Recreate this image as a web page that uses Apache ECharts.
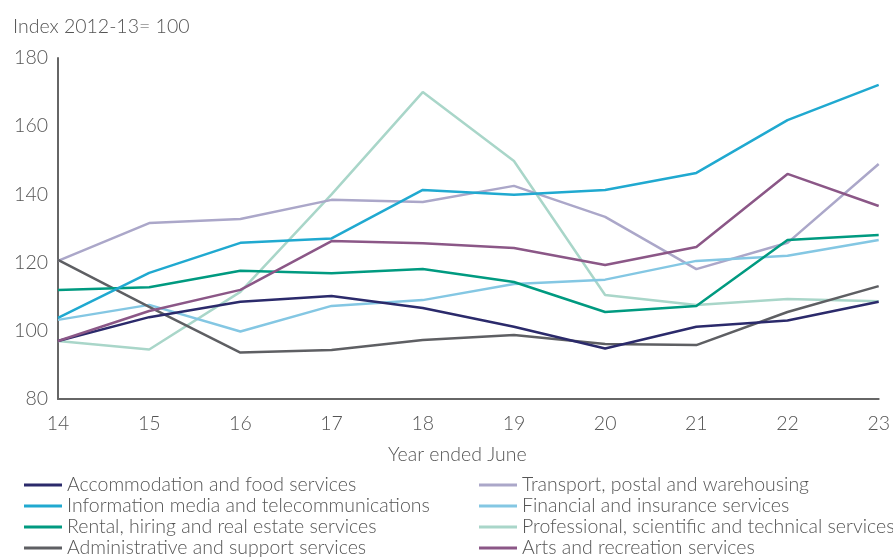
<!DOCTYPE html>
<html>
<head>
<meta charset="utf-8">
<script src="https://cdn.jsdelivr.net/npm/echarts@6/dist/echarts.min.js"></script>
<style>
  html, body { margin: 0; padding: 0; background: #fff; }
  #chart { width: 893px; height: 557px; }
</style>
</head>
<body>
<div id="chart"></div>
<script>
// year ended June
var years = ['14', '15', '16', '17', '18', '19', '20', '21', '22', '23']

var accommodation = [97, 104, 108.5, 110.2, 106.7, 101.2, 94.8, 101.2, 103, 108.5]
var transport = [120.5, 131.6, 132.8, 138.4, 137.8, 142.5, 133.4, 118.1, 125.8, 148.9]
var infoMedia = [103.8, 117, 125.8, 127.1, 141.3, 139.9, 141.3, 146.3, 161.8, 172.1]
var financial = [103.2, 107.6, 99.8, 107.3, 109, 113.7, 115, 120.5, 122, 126.6]
var rental = [112, 112.8, 117.6, 116.9, 118.1, 114.3, 105.5, 107.3, 126.6, 128.1]
var professional = [97, 94.5, 111.4, 140, 170, 149.8, 110.5, 107.6, 109.3, 108.7]
var admin = [120.8, 107, 93.6, 94.4, 97.3, 98.8, 96.1, 95.8, 105.5, 113.1]
var arts = [97, 105.8, 112, 126.3, 125.7, 124.3, 119.3, 124.6, 146, 136.6]

// legend layout: two columns, four rows
var legendCol1 = ['Accommodation and food services', 'Information media and telecommunications',
  'Rental, hiring and real estate services', 'Administrative and support services']
var legendCol2 = ['Transport, postal and warehousing', 'Financial and insurance services',
  'Professional, scientific and technical services', 'Arts and recreation services']

var font = 'Lato'
var textColor = '#555'
var fontSize = 19.5

var chart = echarts.init(document.getElementById('chart'))

function line(name, data, color) {
  return {
    name: name,
    type: 'line',
    data: data,
    symbol: 'none',
    lineStyle: { color: color, width: 2.5 },
    itemStyle: { color: color }
  }
}

function legendItem(name, left, row) {
  return {
    data: [name],
    left: left,
    top: 475 + row * 21,
    itemWidth: 38,
    itemHeight: 3,
    icon: 'rect',
    padding: 0,
    textStyle: { fontFamily: font, fontWeight: 300, fontSize: fontSize, color: textColor }
  }
}

var legends = []
legendCol1.forEach(function(n, i) { legends.push(legendItem(n, 24, i)) })
legendCol2.forEach(function(n, i) { legends.push(legendItem(n, 479, i)) })

chart.setOption({
  animation: false,
  textStyle: { fontFamily: font },
  grid: { left: 58, right: 10, top: 58, bottom: 158 },
  graphic: [
    { type: 'text', left: 13, top: 17, style: { text: 'Index 2012-13= 100', font: '300 19.5px Lato', fill: textColor } },
    { type: 'text', left: 388, top: 445, style: { text: 'Year ended June', font: '300 19.5px Lato', fill: textColor } }
  ],
  legend: legends,
  xAxis: {
    type: 'category',
    data: years,
    boundaryGap: false,
    axisLine: { lineStyle: { color: '#666', width: 2 } },
    axisTick: { show: false },
    axisLabel: { fontFamily: font, fontWeight: 300, fontSize: fontSize, color: textColor, margin: 15 },
    splitLine: { show: false }
  },
  yAxis: {
    type: 'value',
    min: 80,
    max: 180,
    interval: 20,
    axisLine: { show: true, lineStyle: { color: '#666', width: 2 } },
    axisTick: { show: false },
    axisLabel: { fontFamily: font, fontWeight: 300, fontSize: fontSize, color: textColor, margin: 10 },
    splitLine: { show: false }
  },
  series: [
    line('Professional, scientific and technical services', professional, '#a9d6c9'),
    line('Transport, postal and warehousing', transport, '#aba7c9'),
    line('Financial and insurance services', financial, '#84c7e3'),
    line('Administrative and support services', admin, '#5e5f63'),
    line('Rental, hiring and real estate services', rental, '#009a80'),
    line('Accommodation and food services', accommodation, '#2b2a6b'),
    line('Arts and recreation services', arts, '#8b5787'),
    line('Information media and telecommunications', infoMedia, '#20a9d0')
  ]
})
</script>
</body>
</html>
